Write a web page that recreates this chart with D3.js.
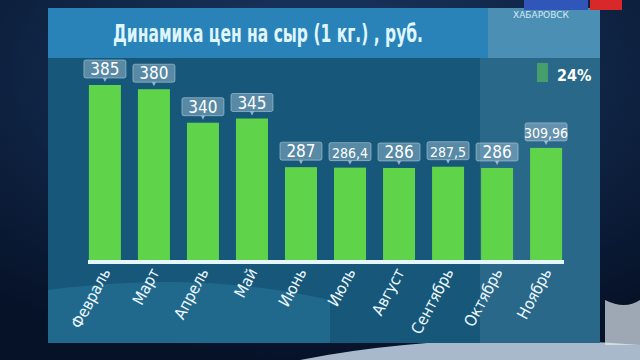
<!DOCTYPE html>
<html>
<head>
<meta charset="utf-8">
<script src="https://cdn.jsdelivr.net/npm/d3@7"></script>
<style>
  body { margin: 0; background: #0a1a33; }
  svg { display: block; }
</style>
</head>
<body>
<div id="chart"></div>
<script>
var width = 640, height = 360;

// data
var months = ["Февраль", "Март", "Апрель", "Май", "Июнь", "Июль", "Август", "Сентябрь", "Октябрь", "Ноябрь"];
var prices = [385, 380, 340, 345, 287, 286.4, 286, 287.5, 286, 309.96];
var priceLabels = ["385", "380", "340", "345", "287", "286,4", "286", "287,5", "286", "309,96"];
var titleText = "Динамика цен на сыр (1 кг.) , руб.";
var cityText = "ХАБАРОВСК";
var changeText = "24%";

var cond = "'DejaVu Sans Condensed', 'Liberation Sans Narrow', 'DejaVu Sans', sans-serif";

const svg = d3.select("#chart")
    .append("svg")
    .attr("width", width)
    .attr("height", height);

// dark studio background
var defs = svg.append("defs");
var bg = defs.append("radialGradient").attr("id", "bg").attr("cx", "50%").attr("cy", "20%").attr("r", "80%");
bg.append("stop").attr("offset", "0%").attr("stop-color", "#1b3a66");
bg.append("stop").attr("offset", "100%").attr("stop-color", "#061228");
svg.append("rect").attr("width", width).attr("height", height).attr("fill", "url(#bg)");

// light sweep at the bottom
svg.append("path")
    .attr("d", "M300,360 Q450,330 640,345 L640,360 Z")
    .attr("fill", "#cfe3f2").attr("opacity", 0.8);
svg.append("path")
    .attr("d", "M605,300 Q625,310 640,300 L640,345 L605,345 Z")
    .attr("fill", "#dfe8f0").attr("opacity", 0.7);

// panel
svg.append("rect").attr("x", 48).attr("y", 8).attr("width", 552).attr("height", 335).attr("fill", "#17587a");
svg.append("rect").attr("x", 48).attr("y", 8).attr("width", 552).attr("height", 50).attr("fill", "#2a83b8");
svg.append("rect").attr("x", 488).attr("y", 8).attr("width", 112).attr("height", 50).attr("fill", "#4b8fb4");
svg.append("rect").attr("x", 480).attr("y", 58).attr("width", 120).attr("height", 285).attr("fill", "#3b7797").attr("opacity", 0.5);
svg.append("path")
    .attr("d", "M48,290 Q200,270 330,300 L330,343 L48,343 Z")
    .attr("fill", "#2a7aa0").attr("opacity", 0.5);

// channel logo
svg.append("rect").attr("x", 524).attr("y", 0).attr("width", 64).attr("height", 10).attr("fill", "#2f56b8");
svg.append("rect").attr("x", 590).attr("y", 0).attr("width", 32).attr("height", 10).attr("fill", "#d8282a");
svg.append("text")
    .attr("x", 541).attr("y", 18)
    .attr("text-anchor", "middle")
    .attr("font-family", "'DejaVu Sans', sans-serif")
    .attr("font-size", 9)
    .attr("fill", "#d6e8f5")
    .text(cityText);

// title
svg.append("text")
    .attr("x", 268).attr("y", 42)
    .attr("text-anchor", "middle")
    .attr("font-family", cond)
    .attr("font-size", 24)
    .attr("font-weight", "bold")
    .attr("textLength", 310)
    .attr("lengthAdjust", "spacingAndGlyphs")
    .attr("fill", "#dff6ff")
    .text(titleText);

// 24% marker
svg.append("rect").attr("x", 537).attr("y", 63).attr("width", 11).attr("height", 19).attr("fill", "#5cc35a").attr("opacity", 0.6);
svg.append("text")
    .attr("x", 557).attr("y", 81)
    .attr("font-family", cond)
    .attr("font-size", 16)
    .attr("font-weight", "bold")
    .attr("fill", "#ffffff")
    .text(changeText);

var x = d3.scaleBand()
    .domain(months)
    .range([84, 567])
    .paddingInner(0.347)
    .paddingOuter(0.1);

var y = d3.scaleLinear()
    .domain([175, 385])
    .range([261, 85]);

// bars
svg.append("g")
    .selectAll("rect")
    .data(months)
    .join("rect")
      .attr("x", d => x(d))
      .attr("y", (d, i) => y(prices[i]))
      .attr("width", x.bandwidth())
      .attr("height", (d, i) => y.range()[0] - y(prices[i]))
      .attr("fill", "#5fd34a");

// baseline
svg.append("rect")
    .attr("x", 88).attr("y", 260)
    .attr("width", 476).attr("height", 4)
    .attr("fill", "#e6f7fb");

// value labels
var lab = svg.append("g")
    .selectAll("g")
    .data(months)
    .join("g")
      .attr("transform", (d, i) => `translate(${x(d) + x.bandwidth() / 2},${y(prices[i]) - 6})`);

lab.append("rect")
    .attr("x", -21).attr("y", -19)
    .attr("width", 42).attr("height", 18)
    .attr("rx", 2)
    .attr("fill", "#a9c6da").attr("fill-opacity", 0.45)
    .attr("stroke", "#c9dde9").attr("stroke-opacity", 0.5);
lab.append("path")
    .attr("d", "M-2,-1 L2,-1 L0,3 Z")
    .attr("fill", "#c9dde9").attr("opacity", 0.7);
lab.append("text")
    .attr("y", -4)
    .attr("text-anchor", "middle")
    .attr("font-family", cond)
    .attr("font-size", (d, i) => priceLabels[i].length > 4 ? 14 : 17)
    .attr("fill", "#ffffff")
    .text((d, i) => priceLabels[i]);

// month axis labels, rotated
svg.append("g")
    .selectAll("text")
    .data(months)
    .join("text")
      .attr("transform", d => `translate(${x(d) + x.bandwidth() / 2 + 6},${272}) rotate(-62)`)
      .attr("text-anchor", "end")
      .attr("font-family", cond)
      .attr("font-size", 16)
      .attr("fill", "#eef8ff")
      .text(d => d);
</script>
</body>
</html>
